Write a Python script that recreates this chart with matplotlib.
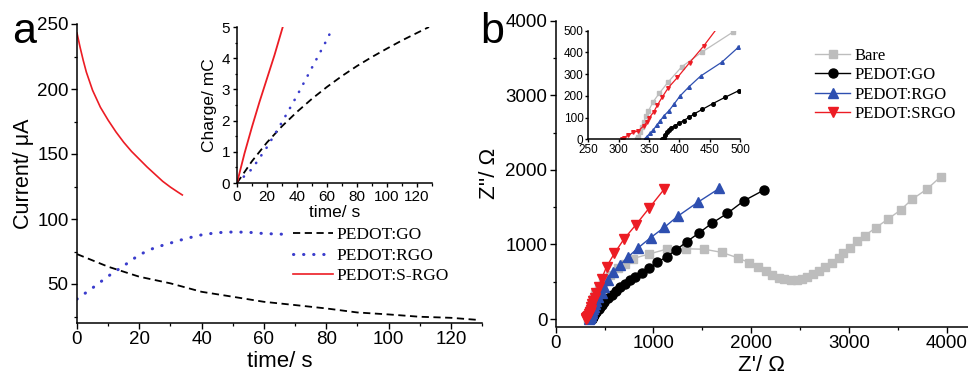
import matplotlib
matplotlib.use("Agg")
import matplotlib.pyplot as plt
from matplotlib.ticker import MultipleLocator

plt.rcParams["font.family"] = ["Liberation Sans", "DejaVu Sans"]
plt.rcParams["axes.linewidth"] = 1.1

# --- panel a: current transients (time / s, current / uA) ---
go_t = [0, 10, 20, 30, 40, 50, 60, 70, 80, 90, 100, 110, 120, 128]
go_i = [73, 63.3, 55.6, 50.5, 44, 40.2, 36.3, 33.8, 31.2, 28.1, 26.6, 24.8, 24, 22.5]

rgo_t = [0, 5, 10, 15, 20, 25, 30, 35, 40, 45, 50, 55, 60, 66]
rgo_i = [38.4, 47, 56, 64, 72.5, 78, 81.5, 85, 87.8, 89.5, 90, 89.8, 88.8, 88.3]

srgo_t = [0, 1, 2, 3, 4, 5, 7.5, 10, 12.5, 15, 17.5, 20, 22.5, 25, 27.5, 30, 32.5, 33.8]
srgo_i = [243, 232, 222, 213, 206, 199, 186, 176, 167, 159, 152, 146, 140, 134.5, 129, 124.5,
          120.5, 118.5]

# inset a: charge (mC)
go_qt = [0, 10, 20, 30, 40, 50, 60, 70, 80, 90, 100, 110, 120, 128]
go_q = [0, 0.7, 1.3, 1.82, 2.28, 2.7, 3.08, 3.43, 3.75, 4.04, 4.31, 4.57, 4.81, 5.0]
rgo_qt = [0, 10, 20, 30, 40, 50, 60, 64]
rgo_q = [0, 0.45, 1.15, 1.95, 2.8, 3.7, 4.6, 5.0]
srgo_qt = [0, 5, 10, 15, 20, 25, 30.5]
srgo_q = [0, 0.95, 1.8, 2.6, 3.35, 4.1, 5.0]

# --- panel b: Nyquist plots (Z' / ohm, Z'' / ohm) ---
bare_re = [330, 332, 335, 338, 342, 345, 349, 357, 367, 382, 404, 438, 489, 560, 640, 710,
           790, 950, 1135, 1330, 1520, 1698, 1860, 1981, 2073, 2151, 2216, 2284, 2339, 2404,
           2466, 2517, 2568, 2629, 2694, 2755, 2823, 2898, 2942, 3011, 3079, 3161, 3274,
           3400, 3529, 3645, 3795, 3939]
bare_im = [0, 12, 35, 58, 81, 109, 130, 173, 212, 265, 334, 403, 495, 590, 680, 740,
           810, 870, 937, 942, 936, 894, 822, 755, 693, 648, 590, 550, 532, 519,
           523, 536, 563, 599, 644, 693, 747, 822, 881, 956, 1046, 1117, 1224,
           1341, 1462, 1605, 1739, 1908]

go_re = [371, 374, 376, 379, 383, 387, 393, 400, 407, 416, 425, 438, 455, 475, 498, 540,
         573, 617, 658, 709, 760, 811, 880, 958, 1040, 1135, 1231, 1340, 1469, 1596, 1756,
         1926, 2131]
go_im = [0, 8, 20, 32, 43, 54, 63, 75, 86, 101, 118, 138, 164, 193, 224, 280,
         325, 380, 430, 475, 525, 567, 612, 680, 760, 836, 925, 1037, 1157, 1283, 1417,
         1586, 1730]

rgo_re = [343, 346, 352, 357, 363, 368, 375, 383, 391, 401, 416, 435, 470, 497, 539, 590,
          658, 743, 845, 970, 1111, 1250, 1453, 1674]
rgo_im = [0, 12, 28, 43, 66, 84, 109, 132, 161, 199, 242, 291, 355, 423, 530, 635,
          724, 836, 956, 1090, 1229, 1380, 1565, 1752]

srgo_re = [306, 309, 316, 324, 332, 341, 346, 350, 358, 364, 372, 382, 397, 417, 440, 470,
           520, 600, 700, 818, 954, 1111]
srgo_im = [0, 8, 20, 32, 38, 61, 78, 97, 127, 158, 195, 238, 285, 353, 429, 540,
           700, 880, 1075, 1260, 1484, 1743]

RED = "#ec1c24"
BLUE_DOT = "#3a3ccc"
BLUE = "#2e4fb0"
GRAY = "#bdbdbd"

W, H = 968.0, 380.0


def box(l, t, r, b):
    # pixel box (left, top, right, bottom) -> figure fraction
    return [l / W, 1 - b / H, (r - l) / W, (b - t) / H]


def style(ax, fs, major=4, minor=2.2):
    ax.spines["top"].set_visible(False)
    ax.spines["right"].set_visible(False)
    ax.tick_params(which="major", direction="out", length=major, width=1, labelsize=fs, pad=2)
    ax.tick_params(which="minor", direction="out", length=minor, width=0.9)


fig = plt.figure(figsize=(9.68, 3.8), dpi=100)

# ---------------- panel a ----------------
ax_a = fig.add_axes(box(77, 24, 482, 323))
ax_a.plot(go_t, go_i, color="black", lw=1.3, ls=(0, (4, 2.5)), label="PEDOT:GO")
ax_a.plot(rgo_t, rgo_i, color=BLUE_DOT, lw=2.2, ls=(0, (0.1, 3.2)),
          dash_capstyle="round", label="PEDOT:RGO")
ax_a.plot(srgo_t, srgo_i, color=RED, lw=1.2, label="PEDOT:S-RGO")
ax_a.set_xlim(0, 130)
ax_a.set_ylim(20, 250)
ax_a.xaxis.set_major_locator(MultipleLocator(20))
ax_a.xaxis.set_minor_locator(MultipleLocator(10))
ax_a.yaxis.set_major_locator(MultipleLocator(50))
ax_a.yaxis.set_minor_locator(MultipleLocator(25))
style(ax_a, 13.5)
ax_a.set_xlabel("time/ s", fontsize=16, labelpad=2)
ax_a.set_ylabel("Current/ \u03bcA", fontsize=15.5, labelpad=2)
ax_a.legend(loc="upper left", bbox_to_anchor=(293 / W, 1 - 227 / H),
            bbox_transform=fig.transFigure, frameon=False,
            prop={"family": "Liberation Serif", "size": 12.5},
            handlelength=2.3, handletextpad=0.2, labelspacing=0.25,
            borderpad=0, borderaxespad=0)

ins_a = fig.add_axes(box(237, 27, 432, 183))
ins_a.plot(go_qt, go_q, color="black", lw=1.3, ls=(0, (4, 2.5)))
ins_a.plot(rgo_qt, rgo_q, color=BLUE_DOT, lw=1.9, ls=(0, (0.1, 3.4)), dash_capstyle="round")
ins_a.plot(srgo_qt, srgo_q, color=RED, lw=1.3)
ins_a.set_xlim(0, 130)
ins_a.set_ylim(0, 5)
ins_a.xaxis.set_major_locator(MultipleLocator(20))
ins_a.xaxis.set_minor_locator(MultipleLocator(10))
ins_a.yaxis.set_major_locator(MultipleLocator(1))
ins_a.yaxis.set_minor_locator(MultipleLocator(0.5))
style(ins_a, 11, major=3, minor=1.8)
ins_a.set_xlabel("time/ s", fontsize=12.5, labelpad=1)
ins_a.set_ylabel("Charge/ mC", fontsize=12.5, labelpad=3)
ins_a.patch.set_alpha(0)

# ---------------- panel b ----------------
ax_b = fig.add_axes(box(555.7, 20.7, 968, 326.5))
series_b = [
    (bare_re, bare_im, GRAY, "s", 5.5, "Bare"),
    (go_re, go_im, "black", "o", 6.5, "PEDOT:GO"),
    (rgo_re, rgo_im, BLUE, "^", 7.5, "PEDOT:RGO"),
    (srgo_re, srgo_im, RED, "v", 7.5, "PEDOT:SRGO"),
]
for xs, ys, c, m, ms, lab in series_b:
    ax_b.plot(xs, ys, color=c, marker=m, ms=ms, lw=1.0, mec=c, mfc=c, label=lab)
ax_b.set_xlim(0, 4218)
ax_b.set_ylim(-100, 4000)
ax_b.xaxis.set_major_locator(MultipleLocator(1000))
ax_b.xaxis.set_minor_locator(MultipleLocator(500))
ax_b.yaxis.set_major_locator(MultipleLocator(1000))
ax_b.yaxis.set_minor_locator(MultipleLocator(500))
style(ax_b, 13.5)
ax_b.set_xlabel("Z'/ \u03a9", fontsize=16, labelpad=2)
ax_b.set_ylabel("Z''/ \u03a9", fontsize=16, labelpad=4)
ax_b.legend(loc="upper left", bbox_to_anchor=(815 / W, 1 - 48 / H),
            bbox_transform=fig.transFigure, frameon=False,
            prop={"family": "Liberation Serif", "size": 12},
            handlelength=2.1, handletextpad=0.25, labelspacing=0.2,
            borderpad=0, borderaxespad=0)

ins_b = fig.add_axes(box(588.3, 30.7, 740, 139.3))
for xs, ys, c, m, ms, lab in series_b:
    ins_b.plot(xs, ys, color=c, marker=m, ms=2.6, lw=0.9, mec=c, mfc=c)
ins_b.set_xlim(250, 500)
ins_b.set_ylim(0, 500)
ins_b.xaxis.set_major_locator(MultipleLocator(50))
ins_b.yaxis.set_major_locator(MultipleLocator(100))
style(ins_b, 8.5, major=2.5)
ins_b.tick_params(pad=1)
ins_b.patch.set_alpha(0)

fig.text(12 / W, 1 - 43 / H, "a", fontsize=31, va="baseline")
fig.text(480 / W, 1 - 43 / H, "b", fontsize=31, va="baseline")

fig.savefig("out.png", dpi=100)
